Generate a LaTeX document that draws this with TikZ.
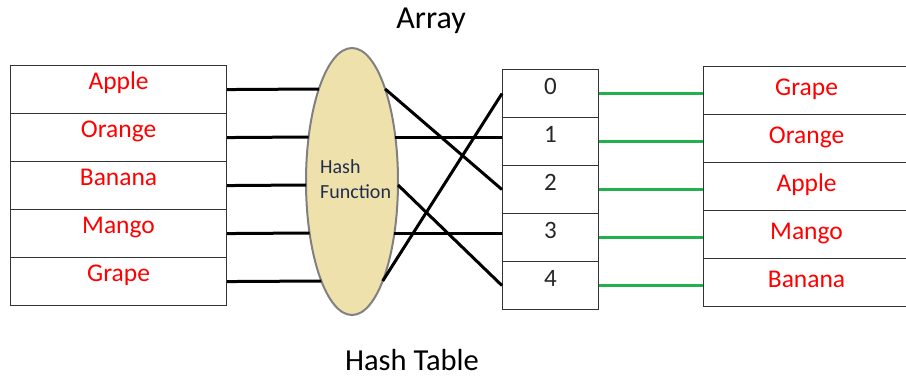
\documentclass[tikz,border=0pt]{standalone}
\usepackage{fontspec}
\setmainfont{Carlito}
\usetikzlibrary{shapes.geometric,calc}
\definecolor{fruitred}{HTML}{FF0000}
\definecolor{linkgreen}{HTML}{22B14C}
\definecolor{hashfill}{HTML}{EFE1AC}
\definecolor{hashedge}{HTML}{808080}
\definecolor{hashtext}{HTML}{1F2D4D}
\definecolor{digit}{HTML}{262626}
\tikzset{
  cellbox/.style={draw=black!80, line width=1.1pt, minimum height=48pt,
    inner sep=0pt, anchor=north west},
  keycell/.style={cellbox, minimum width=216pt},
  slotcell/.style={cellbox, minimum width=96pt},
  valcell/.style={cellbox, minimum width=206pt},
  fruit/.style={text=fruitred, font=\fontsize{25.5}{30}\selectfont, anchor=base, inner sep=0pt},
  slotnum/.style={text=digit, font=\fontsize{25}{30}\selectfont, anchor=base, inner sep=0pt},
  caption/.style={text=black, font=\fontsize{32}{38}\selectfont, anchor=base, inner sep=0pt},
  hashlabel/.style={text=hashtext, font=\fontsize{20}{24}\selectfont, anchor=base west, inner sep=0pt},
  wire/.style={line width=3pt, black},
  greenwire/.style={line width=3pt, linkgreen},
}
\begin{document}
\begin{tikzpicture}[x=1pt,y=-1pt]
\useasboundingbox (0,0) rectangle (906,376);

% titles
\node[caption] (arraytitle) at (431,28) {Array};
\node[caption, font=\fontsize{30.5}{36}\selectfont] (tabletitle) at (412,370) {Hash Table};

% keys
\foreach \i/\t in {0/Apple,1/Orange,2/Banana,3/Mango,4/Grape}{
  \node[keycell] (L\i) at (10,{65+48*\i}) {};
  \node[fruit] (Lt\i) at ($(L\i.center)+(0,0)$) {\t};
}

% array slots
\foreach \i in {0,...,4}{
  \node[slotcell] (A\i) at (502,{69+48*\i}) {};
  \node[slotnum] (At\i) at ($(A\i.center)+(0,1)$) {\i};
}

% stored values
\foreach \i/\t in {0/Grape,1/Orange,2/Apple,3/Mango,4/Banana}{
  \node[valcell] (R\i) at (703,{66+48*\i}) {};
  \node[fruit] (Rt\i) at ($(R\i.center)+(0,5)$) {\t};
}

% hash function
\node[ellipse, draw=hashedge, line width=2pt, fill=hashfill,
      minimum width=92pt, minimum height=267pt, inner sep=0pt] (H) at (352,181.5) {};
\node[hashlabel] (hashword) at (320,173) {Hash};
\node[hashlabel] (funcword) at (320,198) {Function};

% where each key row meets the rim of the hash function
\foreach \i in {0,...,4}{
  \pgfmathsetmacro\rowy{89+48*\i}
  \pgfmathsetmacro\dx{46*sqrt(1-((\rowy-181.5)/133.5)^2)}
  \coordinate (hl\i) at ({352-\dx},\rowy);
  \coordinate (hr\i) at ({352+\dx},\rowy);
  \draw[wire] (L\i.east) -- (hl\i);
}

% hash function out to the slots
\draw[wire] (hr0) -- (A2.west);
\draw[wire] (hr1) -- (hr1 -| A1.west);
\draw[wire] (hr2) -- (A4.west);
\draw[wire] (hr3) -- (hr3 -| A3.west);
\draw[wire] (hr4) -- (A0.west);

% slots to values
\foreach \i in {0,...,4}{
  \draw[greenwire] (A\i.east) -- (A\i.east -| R\i.west);
}
\end{tikzpicture}
\end{document}
